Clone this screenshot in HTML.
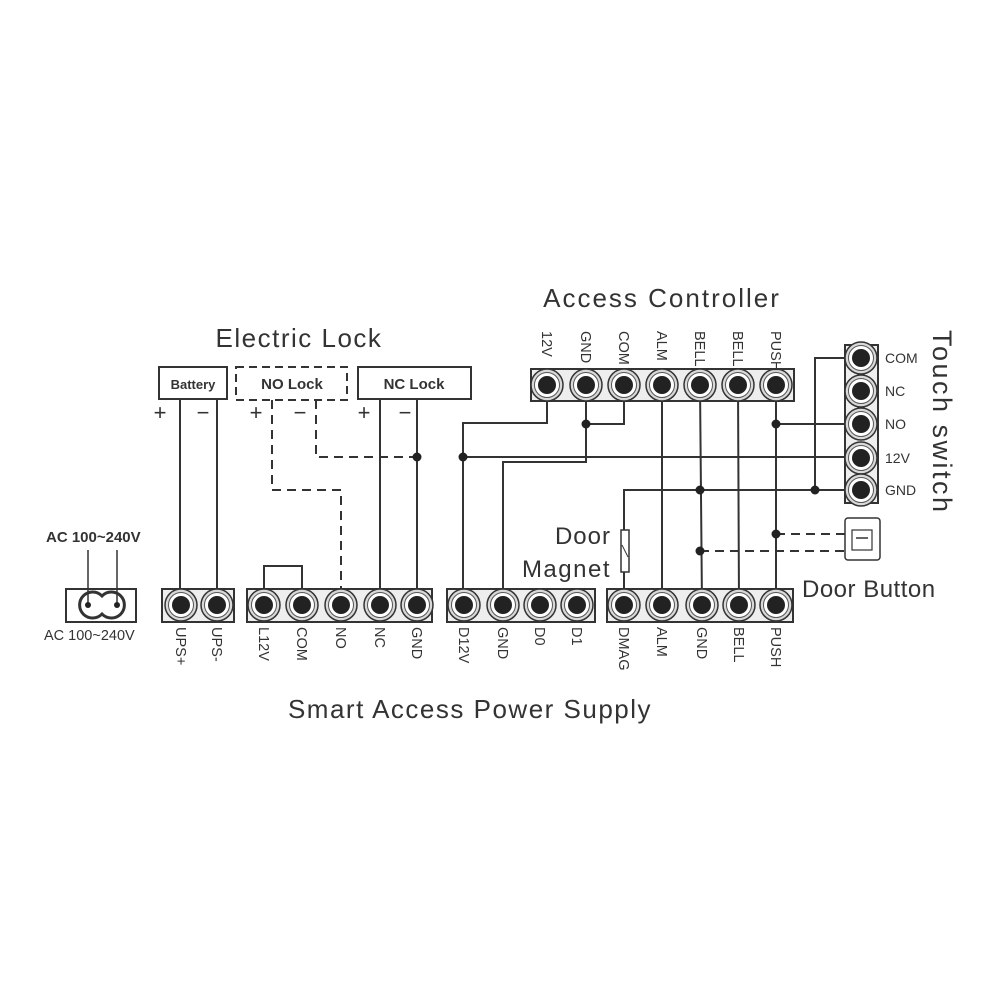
<!DOCTYPE html>
<html><head><meta charset="utf-8"><style>
html,body{margin:0;padding:0;background:#fff;}
svg{display:block;}
text{font-family:"Liberation Sans","DejaVu Sans",sans-serif;fill:#333;}
</style></head><body>
<svg width="1000" height="1000" viewBox="0 0 1000 1000" xmlns="http://www.w3.org/2000/svg">
<defs>
<g id="t">
<circle r="16" fill="#d8d8d8" stroke="#333" stroke-width="1.5"/>
<circle r="12.5" fill="#fff" stroke="#555" stroke-width="1"/>
<circle r="9" fill="#222"/>
</g>
</defs>
<g stroke="#333" stroke-width="2" fill="none">
<rect x="162" y="589" width="72" height="33" fill="#eee"/>
<rect x="247" y="589" width="185" height="33" fill="#eee"/>
<rect x="447" y="589" width="148" height="33" fill="#eee"/>
<rect x="607" y="589" width="186" height="33" fill="#eee"/>
<rect x="531" y="369" width="263" height="32" fill="#eee"/>
<rect x="845" y="345" width="33" height="158" fill="#eee"/>
<!-- AC plug -->
<rect x="66" y="589" width="70" height="33" fill="#fff"/>
<path d="M102,596 A13,13 0 1,0 102,614 A13,13 0 1,0 102,596 Z" stroke-width="3" fill="#fff"/>
<line x1="88" y1="550" x2="88" y2="605" stroke-width="1.5"/>
<line x1="117" y1="550" x2="117" y2="605" stroke-width="1.5"/>
<rect x="159" y="367" width="68" height="32"/>
<rect x="236" y="367" width="111" height="33" stroke-dasharray="8,5"/>
<rect x="358" y="367" width="113" height="32"/>
<line x1="180" y1="399" x2="180" y2="605"/>
<line x1="217" y1="399" x2="217" y2="605"/>
<line x1="380" y1="399" x2="380" y2="605"/>
<line x1="417" y1="399" x2="417" y2="605"/>
<polyline points="264,605 264,566 302,566 302,605"/>
<polyline points="272,400 272,490 341,490 341,589" stroke-dasharray="9,6"/>
<polyline points="316,400 316,457 417,457" stroke-dasharray="9,6"/>
<polyline points="547,385 547,423 463,423 463,605"/>
<line x1="463" y1="457" x2="861" y2="457"/>
<polyline points="586,385 586,462 503,462 503,605"/>
<polyline points="624,385 624,424 586,424"/>
<line x1="662" y1="385" x2="662" y2="605"/>
<line x1="700" y1="385" x2="702" y2="605"/>
<line x1="738" y1="385" x2="739" y2="605"/>
<line x1="776" y1="385" x2="776" y2="605"/>
<line x1="776" y1="424" x2="861" y2="424"/>
<polyline points="624,605 624,490 861,490"/>
<polyline points="815,490 815,358 861,358"/>
<line x1="776" y1="534" x2="845" y2="534" stroke-dasharray="9,6"/>
<line x1="700" y1="551" x2="845" y2="551" stroke-dasharray="9,6"/>
<rect x="621" y="530" width="8" height="42" fill="#fff" stroke-width="1.5"/>
<line x1="622" y1="545" x2="628" y2="557" stroke-width="1"/>
<rect x="845" y="518" width="35" height="42" rx="3" fill="#fff" stroke-width="1.5"/>
<rect x="852" y="530" width="20" height="20" stroke-width="1.2"/>
<line x1="856" y1="538" x2="868" y2="538" stroke-width="1.5"/>
</g>
<g fill="#222">
<circle cx="417" cy="457" r="4.5"/><circle cx="463" cy="457" r="4.5"/>
<circle cx="586" cy="424" r="4.5"/><circle cx="776" cy="424" r="4.5"/>
<circle cx="700" cy="490" r="4.5"/><circle cx="815" cy="490" r="4.5"/>
<circle cx="776" cy="534" r="4.5"/><circle cx="700" cy="551" r="4.5"/>
<circle cx="88" cy="605" r="3"/><circle cx="117" cy="605" r="3"/>
</g>
<use href="#t" x="181" y="605"/><use href="#t" x="217" y="605"/>
<use href="#t" x="264" y="605"/><use href="#t" x="302" y="605"/><use href="#t" x="341" y="605"/><use href="#t" x="380" y="605"/><use href="#t" x="417" y="605"/>
<use href="#t" x="464" y="605"/><use href="#t" x="503" y="605"/><use href="#t" x="540" y="605"/><use href="#t" x="577" y="605"/>
<use href="#t" x="624" y="605"/><use href="#t" x="662" y="605"/><use href="#t" x="702" y="605"/><use href="#t" x="739" y="605"/><use href="#t" x="776" y="605"/>
<use href="#t" x="547" y="385"/><use href="#t" x="586" y="385"/><use href="#t" x="624" y="385"/><use href="#t" x="662" y="385"/><use href="#t" x="700" y="385"/><use href="#t" x="738" y="385"/><use href="#t" x="776" y="385"/>
<use href="#t" x="861" y="358"/><use href="#t" x="861" y="391"/><use href="#t" x="861" y="424"/><use href="#t" x="861" y="458"/><use href="#t" x="861" y="490"/>
<text x="299" y="347" font-size="26" letter-spacing="1.5" text-anchor="middle">Electric Lock</text>
<text x="662" y="307" font-size="26" letter-spacing="2" text-anchor="middle">Access Controller</text>
<text x="470" y="718" font-size="26" letter-spacing="1.5" text-anchor="middle">Smart Access Power Supply</text>
<text x="802" y="597" font-size="24" letter-spacing="0.5">Door Button</text>
<text x="611" y="544" font-size="24" letter-spacing="1" text-anchor="end">Door</text>
<text x="611" y="577" font-size="24" letter-spacing="1.5" text-anchor="end">Magnet</text>
<text transform="translate(933,330) rotate(90)" font-size="27" letter-spacing="2.5">Touch switch</text>
<g font-size="13" font-weight="bold">
<text x="193" y="389" text-anchor="middle">Battery</text>
<text x="292" y="389" text-anchor="middle" font-size="15">NO Lock</text>
<text x="414" y="389" text-anchor="middle" font-size="15">NC Lock</text>
<text x="46" y="542" font-size="15">AC 100~240V</text>
</g>
<text x="44" y="640" font-size="14.5">AC 100~240V</text>
<g font-size="22" fill="#333">
<text x="160" y="420" text-anchor="middle">+</text><text x="203" y="420" text-anchor="middle">−</text>
<text x="256" y="420" text-anchor="middle">+</text><text x="300" y="420" text-anchor="middle">−</text>
<text x="364" y="420" text-anchor="middle">+</text><text x="405" y="420" text-anchor="middle">−</text>
</g>
<g font-size="14">
<text x="885" y="363">COM</text><text x="885" y="396">NC</text><text x="885" y="429">NO</text><text x="885" y="463">12V</text><text x="885" y="495">GND</text>
</g>
<g font-size="14.5">
<text transform="translate(176,627) rotate(90)">UPS+</text>
<text transform="translate(212,627) rotate(90)">UPS-</text>
<text transform="translate(259,627) rotate(90)">L12V</text>
<text transform="translate(297,627) rotate(90)">COM</text>
<text transform="translate(336,627) rotate(90)">NO</text>
<text transform="translate(375,627) rotate(90)">NC</text>
<text transform="translate(412,627) rotate(90)">GND</text>
<text transform="translate(459,627) rotate(90)">D12V</text>
<text transform="translate(498,627) rotate(90)">GND</text>
<text transform="translate(535,627) rotate(90)">D0</text>
<text transform="translate(572,627) rotate(90)">D1</text>
<text transform="translate(619,627) rotate(90)">DMAG</text>
<text transform="translate(657,627) rotate(90)">ALM</text>
<text transform="translate(697,627) rotate(90)">GND</text>
<text transform="translate(734,627) rotate(90)">BELL</text>
<text transform="translate(771,627) rotate(90)">PUSH</text>
<text transform="translate(542,331) rotate(90)">12V</text>
<text transform="translate(581,331) rotate(90)">GND</text>
<text transform="translate(619,331) rotate(90)">COM</text>
<text transform="translate(657,331) rotate(90)">ALM</text>
<text transform="translate(695,331) rotate(90)">BELL</text>
<text transform="translate(733,331) rotate(90)">BELL</text>
<text transform="translate(771,331) rotate(90)">PUSH</text>
</g>
</svg>
</body></html>
